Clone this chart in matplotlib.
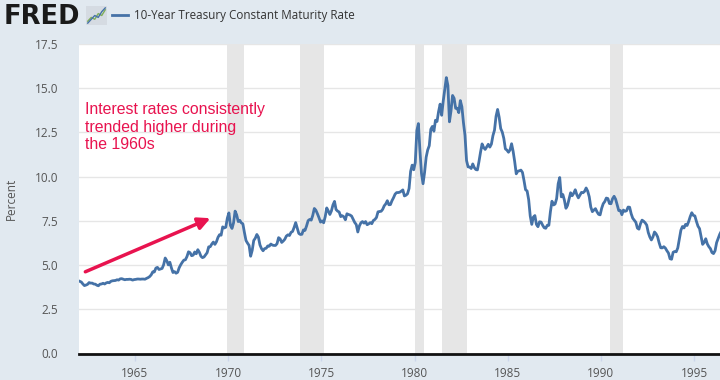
import matplotlib
matplotlib.use("Agg")
import matplotlib.pyplot as plt
import numpy as np

# monthly 10-year treasury rate (percent)
r1960s = [
    4.08, 4.04, 3.93, 3.84, 3.87, 3.91, 4.01, 3.98, 3.98, 3.93, 3.92, 3.86,  # 1962
    3.83, 3.92, 3.93, 3.97, 3.93, 3.99, 4.02, 4.00, 4.08, 4.11, 4.12, 4.13,  # 1963
    4.17, 4.15, 4.22, 4.23, 4.20, 4.17, 4.19, 4.19, 4.20, 4.19, 4.15, 4.18,  # 1964
    4.19, 4.21, 4.21, 4.20, 4.21, 4.21, 4.20, 4.25, 4.29, 4.35, 4.45, 4.62,  # 1965
    4.61, 4.83, 4.87, 4.75, 4.78, 4.81, 5.02, 5.40, 5.25, 5.01, 5.16, 4.84,  # 1966
    4.58, 4.63, 4.54, 4.59, 4.85, 5.02, 5.16, 5.28, 5.30, 5.48, 5.75, 5.70,  # 1967
    5.53, 5.56, 5.74, 5.64, 5.87, 5.72, 5.50, 5.42, 5.46, 5.58, 5.70, 6.03,  # 1968
    6.04, 6.19, 6.30, 6.17, 6.32, 6.57, 6.72, 6.69, 7.16, 7.10, 7.14, 7.65,  # 1969
]
r1970s = [
    7.95, 7.24, 7.07, 7.39, 8.05, 7.84, 7.46, 7.53, 7.39, 7.33, 6.84, 6.39,  # 1970
    6.24, 6.11, 5.50, 5.83, 6.39, 6.52, 6.73, 6.58, 6.14, 5.93, 5.81, 5.93,  # 1971
    5.95, 6.08, 6.07, 6.19, 6.13, 6.11, 6.11, 6.21, 6.55, 6.48, 6.28, 6.36,  # 1972
    6.46, 6.64, 6.71, 6.67, 6.85, 6.90, 7.13, 7.40, 7.09, 6.79, 6.73, 6.74,  # 1973
    6.99, 6.96, 7.21, 7.51, 7.58, 7.54, 7.81, 8.20, 8.10, 7.90, 7.68, 7.43,  # 1974
    7.50, 7.39, 7.73, 8.23, 8.06, 7.86, 8.06, 8.40, 8.60, 8.14, 8.05, 8.00,  # 1975
    7.74, 7.79, 7.73, 7.56, 7.90, 7.86, 7.83, 7.77, 7.59, 7.41, 7.29, 6.87,  # 1976
    7.21, 7.39, 7.46, 7.37, 7.46, 7.28, 7.33, 7.40, 7.34, 7.52, 7.58, 7.69,  # 1977
    8.01, 8.03, 8.04, 8.15, 8.35, 8.46, 8.64, 8.41, 8.42, 8.64, 8.81, 9.01,  # 1978
    9.10, 9.10, 9.12, 9.18, 9.25, 8.91, 8.95, 9.03, 9.33, 10.30, 10.65, 10.39,  # 1979
]
r1980s = [
    10.80, 12.60, 13.00, 11.47, 10.18, 9.60, 10.25, 11.10, 11.51, 11.75, 12.68, 12.84,  # 1980
    12.57, 13.19, 13.12, 13.68, 14.10, 13.47, 14.28, 14.94, 15.60, 15.15, 13.10, 13.72,  # 1981
    14.59, 14.43, 13.86, 13.87, 13.62, 14.30, 13.95, 13.06, 12.34, 10.91, 10.55, 10.54,  # 1982
    10.46, 10.72, 10.51, 10.40, 10.38, 10.85, 11.38, 11.85, 11.65, 11.54, 11.69, 11.83,  # 1983
    11.67, 11.84, 12.32, 12.63, 13.41, 13.80, 13.36, 12.72, 12.52, 12.16, 11.57, 11.50,  # 1984
    11.38, 11.51, 11.86, 11.43, 10.85, 10.16, 10.31, 10.33, 10.37, 10.24, 9.78, 9.26,  # 1985
    9.19, 8.70, 7.78, 7.30, 7.71, 7.80, 7.30, 7.17, 7.45, 7.43, 7.25, 7.11,  # 1986
    7.08, 7.25, 7.25, 8.02, 8.61, 8.40, 8.45, 8.76, 9.60, 9.95, 8.86, 8.99,  # 1987
    8.67, 8.21, 8.37, 8.72, 9.09, 8.92, 9.06, 9.26, 8.98, 8.80, 8.96, 9.11,  # 1988
    9.09, 9.17, 9.36, 9.18, 8.86, 8.28, 8.02, 8.11, 8.19, 8.01, 7.87, 7.84,  # 1989
]
r1990s = [
    8.21, 8.47, 8.59, 8.79, 8.76, 8.48, 8.47, 8.75, 8.89, 8.72, 8.39, 8.08,  # 1990
    8.09, 7.85, 8.11, 8.04, 8.07, 8.28, 8.27, 7.90, 7.65, 7.53, 7.42, 7.09,  # 1991
    7.03, 7.34, 7.54, 7.48, 7.39, 7.26, 6.84, 6.59, 6.42, 6.59, 6.87, 6.77,  # 1992
    6.60, 6.26, 5.98, 5.97, 6.04, 5.96, 5.81, 5.68, 5.36, 5.33, 5.72, 5.77,  # 1993
    5.75, 5.97, 6.48, 6.97, 7.18, 7.10, 7.30, 7.24, 7.46, 7.74, 7.96, 7.81,  # 1994
    7.78, 7.47, 7.20, 7.06, 6.63, 6.17, 6.28, 6.49, 6.20, 6.04, 5.93, 5.71,  # 1995
    5.65, 5.81, 6.27, 6.51, 6.74, 6.91,  # 1996
]
start_year = 1962

# recessions (decimal years)
rec_start = [1969.92, 1973.87, 1980.0, 1981.5, 1990.5]
rec_end = [1970.83, 1975.17, 1980.5, 1982.83, 1991.17]

xticks = [1965, 1970, 1975, 1980, 1985, 1990, 1995]
yticks = [0.0, 2.5, 5.0, 7.5, 10.0, 12.5, 15.0, 17.5]

series_name = "10-Year Treasury Constant Maturity Rate"
note = "Interest rates consistently\ntrended higher during\nthe 1960s"

rates = np.array(r1960s + r1970s + r1980s + r1990s)
dates = start_year + (np.arange(len(rates)) + 0.5) / 12

bg = "#e1e9f0"
blue = "#4572a7"
red = "#e8134f"

fig = plt.figure(figsize=(7.2, 3.8), dpi=100, facecolor=bg)
ax = fig.add_axes([79 / 720, 1 - 353.5 / 380, 1 - 79 / 720, (353.5 - 44) / 380])
ax.set_facecolor("white")

for a, b in zip(rec_start, rec_end):
    ax.axvspan(a, b, color="#e6e6e6", lw=0, zorder=1)

ax.plot(dates, rates, color=blue, lw=2, zorder=3)

ax.set_xlim(1962.0, 1996.39)
ax.set_ylim(0, 17.5)
ax.set_xticks(xticks)
ax.set_xticklabels([str(t) for t in xticks])
ax.set_yticks(yticks)
ax.set_yticklabels(["%.1f" % t for t in yticks])
ax.grid(axis="y", color="#e6e6e6", lw=1, zorder=0)
ax.set_axisbelow(True)

for s in ["top", "right", "left"]:
    ax.spines[s].set_visible(False)
ax.spines["bottom"].set_color("#111111")
ax.spines["bottom"].set_linewidth(2)
ax.spines["bottom"].set_zorder(4)

ax.tick_params(axis="x", length=5, color="#ccd6eb", width=1, pad=5,
               labelsize=8.5, labelcolor="#555555")
ax.tick_params(axis="y", length=0, pad=15, labelsize=8.5, labelcolor="#555555")
for lab in ax.get_xticklabels() + ax.get_yticklabels():
    lab.set_family("Open Sans")
ax.set_ylabel("Percent", fontsize=8.5, color="#555555", family="Open Sans",
              labelpad=12)

# annotation
ax.text(1962.34, 14.2, note, color=red, fontsize=11.4, va="top", ha="left",
        family="Liberation Sans", linespacing=1.2, zorder=5)
ax.annotate("", xy=(1969.05, 7.65), xytext=(1962.34, 4.62),
            arrowprops=dict(arrowstyle="-|>", color=red, lw=2.5,
                            mutation_scale=18, shrinkA=0, shrinkB=0),
            zorder=5)

# header
fig.text(4 / 720, 1 - 16.5 / 380, "FRED", fontsize=18.5, fontweight="heavy",
         color="#1a1a1a", va="center", ha="left", family="DejaVu Sans")
icon = fig.add_axes([86 / 720, 1 - 25 / 380, 21 / 720, 19 / 380])
icon.set_facecolor("#d5dbe2")
icon.plot([0, 1, 2, 3, 4, 5], [1, 2, 1.5, 3, 2.5, 4], color="#7fae5a", lw=1)
icon.plot([0, 1, 2, 3, 4, 5], [0.5, 1.5, 2.5, 2, 3.5, 4.5], color=blue, lw=1)
icon.set_xlim(-0.5, 5.5)
icon.set_ylim(0, 5)
icon.set_xticks([])
icon.set_yticks([])
for s in icon.spines.values():
    s.set_visible(False)
fig.add_artist(plt.Line2D([112 / 720, 128 / 720], [1 - 15 / 380, 1 - 15 / 380],
                          color=blue, lw=2))
fig.text(134 / 720, 1 - 15 / 380, series_name, fontsize=8.4, color="#333333",
         va="center", ha="left", family="Open Sans")

fig.savefig("out.png", dpi=100, facecolor=bg)
